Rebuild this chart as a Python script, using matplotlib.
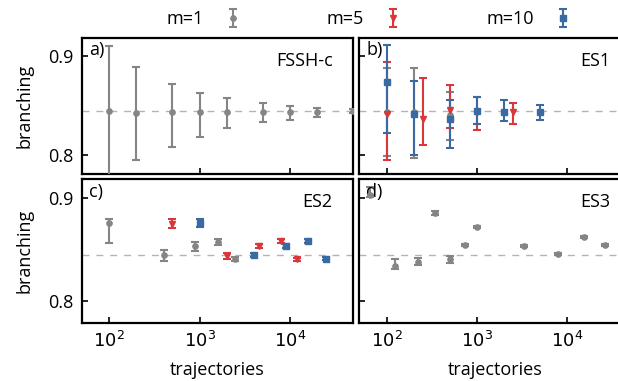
import numpy as np
import matplotlib
matplotlib.use('Agg')
import matplotlib.pyplot as plt
from matplotlib.ticker import NullLocator

plt.rcParams['font.family'] = ['Open Sans', 'DejaVu Sans']
plt.rcParams['font.size'] = 13

GRAY = '#858585'
RED = '#d8383c'
BLUE = '#3a6aa2'
REF = 0.844

# a) FSSH-c, m=1
a_n = [100, 200, 500, 1000, 2000, 5000, 10000, 20000, 50000]
a_y = [0.844, 0.842, 0.843, 0.843, 0.843, 0.843, 0.843, 0.843, 0.844]
a_lo = [0.066, 0.047, 0.035, 0.025, 0.016, 0.010, 0.008, 0.005, 0.002]
a_hi = [0.066, 0.047, 0.029, 0.020, 0.015, 0.010, 0.006, 0.004, 0.002]

# b) ES1
b1_n = [100, 200, 500]
b1_y = [0.843, 0.843, 0.840]
b1_lo = [0.044, 0.046, 0.025]
b1_hi = [0.045, 0.045, 0.024]
b5_n = [100, 250, 500, 1000, 2500]
b5_y = [0.841, 0.836, 0.845, 0.843, 0.843]
b5_lo = [0.046, 0.026, 0.018, 0.018, 0.012]
b5_hi = [0.053, 0.042, 0.026, 0.016, 0.010]
b10_n = [100, 200, 500, 1000, 2000, 5000]
b10_y = [0.874, 0.841, 0.836, 0.844, 0.843, 0.843]
b10_lo = [0.052, 0.041, 0.029, 0.013, 0.009, 0.008]
b10_hi = [0.037, 0.034, 0.020, 0.015, 0.013, 0.008]

# c) ES2
c1_n = [100, 400, 900, 1600, 2500]
c1_y = [0.876, 0.844, 0.853, 0.857, 0.8405]
c1_lo = [0.020, 0.005, 0.005, 0.003, 0.002]
c1_hi = [0.0035, 0.005, 0.0045, 0.003, 0.002]
c5_n = [500, 2000, 4500, 8000, 12000]
c5_y = [0.875, 0.8437, 0.853, 0.8577, 0.840]
c5_lo = [0.004, 0.003, 0.002, 0.002, 0.001]
c5_hi = [0.004, 0.003, 0.002, 0.002, 0.001]
c10_n = [1000, 4000, 9000, 16000, 25000]
c10_y = [0.8753, 0.8444, 0.8535, 0.858, 0.8408]
c10_lo = [0.004, 0.002, 0.002, 0.0015, 0.0015]
c10_hi = [0.004, 0.002, 0.002, 0.0015, 0.0015]

# d) ES3, m=1
d_n = [65, 125, 220, 345, 500, 730, 1000, 3300, 7900, 15300, 26300]
d_y = [0.903, 0.834, 0.838, 0.885, 0.840, 0.854, 0.872, 0.8535, 0.845, 0.862, 0.854]
d_lo = [0.002, 0.003, 0.003, 0.002, 0.003, 0.001, 0.001, 0.001, 0.001, 0.001, 0.001]
d_hi = [0.008, 0.006, 0.003, 0.002, 0.003, 0.001, 0.001, 0.001, 0.001, 0.001, 0.001]

fig = plt.figure(figsize=(6.18, 3.81), dpi=100)
W = 0.4385
ax_a = fig.add_axes([0.1327, 0.5433, W, 0.357])
ax_b = fig.add_axes([0.5817, 0.5433, W, 0.357])
ax_c = fig.add_axes([0.1327, 0.1533, W, 0.377])
ax_d = fig.add_axes([0.5817, 0.1533, W, 0.377])


def eb(ax, n, y, lo, hi, color, marker, ms=3.8):
    return ax.errorbar(n, y, yerr=[lo, hi], fmt=marker, color=color, ms=ms,
                       elinewidth=1.5, capsize=3.0, capthick=1.5, zorder=3)


h1 = eb(ax_a, a_n, a_y, a_lo, a_hi, GRAY, 'o')
eb(ax_b, b1_n, b1_y, b1_lo, b1_hi, GRAY, 'o')
h5 = eb(ax_b, b5_n, b5_y, b5_lo, b5_hi, RED, 'v')
h10 = eb(ax_b, b10_n, b10_y, b10_lo, b10_hi, BLUE, 's')
eb(ax_c, c1_n, c1_y, c1_lo, c1_hi, GRAY, 'o')
eb(ax_c, c5_n, c5_y, c5_lo, c5_hi, RED, 'v')
eb(ax_c, c10_n, c10_y, c10_lo, c10_hi, BLUE, 's')
eb(ax_d, d_n, d_y, d_lo, d_hi, GRAY, 'o')

titles = ['FSSH-c', 'ES1', 'ES2', 'ES3']
tags = ['a)', 'b)', 'c)', 'd)']
for i, ax in enumerate([ax_a, ax_b, ax_c, ax_d]):
    ax.set_xscale('log')
    ax.set_xlim(50, 50000)
    if i < 2:
        ax.set_ylim(0.781, 0.918)
    else:
        ax.set_ylim(0.7785, 0.9185)
    ax.axhline(REF, color='#b4b4b4', lw=1, ls=(0, (5, 5)), zorder=1)
    ax.set_xticks([100, 1000, 10000])
    ax.xaxis.set_minor_locator(NullLocator())
    ax.set_yticks([0.8, 0.9])
    ax.tick_params(direction='in', length=4, width=1.2, labelsize=13, pad=6)
    for s in ax.spines.values():
        s.set_linewidth(1.6)
    ax.text(0.025, 0.975, tags[i], transform=ax.transAxes, ha='left', va='top', fontsize=13)
    ax.text(0.925, 0.9, titles[i], transform=ax.transAxes, ha='right', va='top', fontsize=13)
    if i in (1, 3):
        ax.set_yticklabels([])
    else:
        ax.set_yticklabels(['0.8', '0.9'])
        ax.set_ylabel('branching', labelpad=11)
    if i < 2:
        ax.set_xticklabels([])
    else:
        ax.set_xticklabels(['$10^2$', '$10^3$', '$10^4$'])
        ax.set_xlabel('trajectories', labelpad=7)

fig.legend([h1, h5, h10], ['m=1', 'm=5', 'm=10'], loc='center', bbox_to_anchor=(0.596, 0.95),
           ncol=3, frameon=False, markerfirst=False, handlelength=0.8, handletextpad=1.2,
           columnspacing=4.8, fontsize=13)

fig.savefig('out.png', dpi=100)
